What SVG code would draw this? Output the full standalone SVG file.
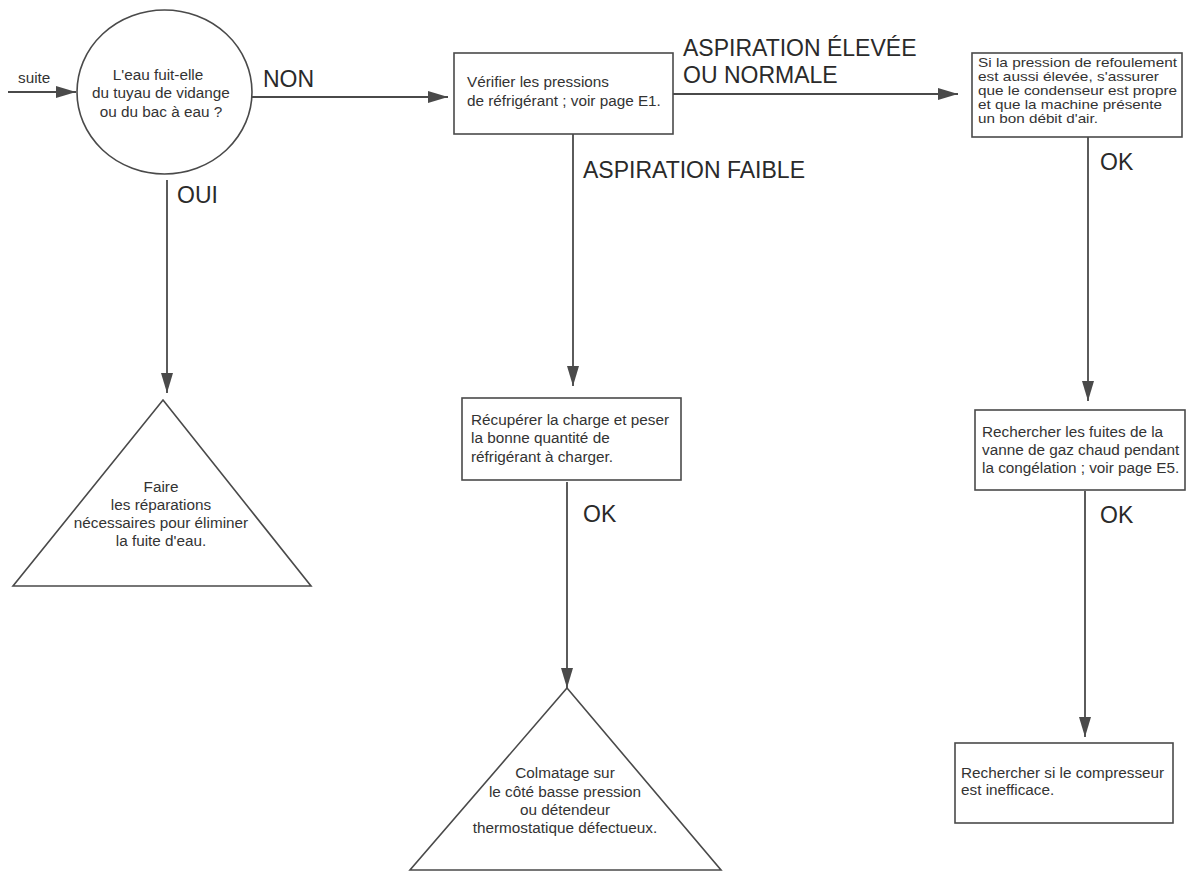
<svg xmlns="http://www.w3.org/2000/svg" width="1188" height="872" viewBox="0 0 1188 872">
  <style>
    .shape { fill: #ffffff; stroke: #4a4a4a; stroke-width: 1.6; }
    .line { fill: none; stroke: #4a4a4a; stroke-width: 1.8; }
    .txt { font-family: "Liberation Sans", Arial, sans-serif; font-size: 15.3px; fill: #333333; }
    .dense { font-size: 13px; }
    .mid { text-anchor: middle; }
    .lbl { font-family: "Liberation Sans", Arial, sans-serif; font-size: 23px; fill: #2a2a2a; }
  </style>
  <defs>
    <marker id="arrow" viewBox="0 0 20 12" refX="20" refY="6" markerWidth="20" markerHeight="12" markerUnits="userSpaceOnUse" orient="auto">
      <path d="M0,0 L20,6 L0,12 Z" fill="#4a4a4a"/>
    </marker>
  </defs>

  <rect width="1188" height="872" fill="#ffffff"/>

  <!-- connectors -->
  <g id="connectors">
    <line class="line" x1="8" y1="92" x2="76" y2="92" marker-end="url(#arrow)"/>
    <line class="line" x1="252" y1="97" x2="448" y2="97" marker-end="url(#arrow)"/>
    <line class="line" x1="167" y1="180" x2="167" y2="393" marker-end="url(#arrow)"/>
    <line class="line" x1="673" y1="94" x2="958" y2="94" marker-end="url(#arrow)"/>
    <line class="line" x1="573" y1="134" x2="573" y2="386" marker-end="url(#arrow)"/>
    <line class="line" x1="567" y1="482" x2="567" y2="688" marker-end="url(#arrow)"/>
    <line class="line" x1="1088" y1="137" x2="1088" y2="401" marker-end="url(#arrow)"/>
    <line class="line" x1="1085" y1="491" x2="1085" y2="737" marker-end="url(#arrow)"/>

    <text class="txt" x="18" y="83">suite</text>
    <text class="lbl" x="263" y="87">NON</text>
    <text class="lbl" x="177" y="203">OUI</text>
    <text class="lbl" x="683" y="56">ASPIRATION ÉLEVÉE</text>
    <text class="lbl" x="683" y="83">OU NORMALE</text>
    <text class="lbl" x="583" y="178">ASPIRATION FAIBLE</text>
    <text class="lbl" x="583" y="522">OK</text>
    <text class="lbl" x="1100" y="170">OK</text>
    <text class="lbl" x="1100" y="523">OK</text>
  </g>

  <!-- decision: water leak -->
  <g id="n-question">
    <ellipse class="shape" cx="164.5" cy="92" rx="87.5" ry="82"/>
    <text class="txt mid" x="158" y="80">L'eau fuit-elle</text>
    <text class="txt mid" x="161" y="98">du tuyau de vidange</text>
    <text class="txt mid" x="161" y="117">ou du bac à eau ?</text>
  </g>

  <!-- repair the leak -->
  <g id="n-repair">
    <polygon class="shape" points="163,400 311,586 13,586"/>
    <text class="txt mid" x="161" y="492">Faire</text>
    <text class="txt mid" x="161" y="510">les réparations</text>
    <text class="txt mid" x="161" y="528">nécessaires pour éliminer</text>
    <text class="txt mid" x="161" y="546">la fuite d'eau.</text>
  </g>

  <!-- check pressures -->
  <g id="n-pressures">
    <rect class="shape" x="454" y="53" width="219" height="81"/>
    <text class="txt" x="467" y="87">Vérifier les pressions</text>
    <text class="txt" x="467" y="106">de réfrigérant ; voir page E1.</text>
  </g>

  <!-- recover charge -->
  <g id="n-recover">
    <rect class="shape" x="462" y="398" width="219" height="82"/>
    <text class="txt" x="471" y="425">Récupérer la charge et peser</text>
    <text class="txt" x="471" y="443">la bonne quantité de</text>
    <text class="txt" x="471" y="462">réfrigérant à charger.</text>
  </g>

  <!-- low-side restriction -->
  <g id="n-restriction">
    <polygon class="shape" points="567,688 721,870 410,870"/>
    <text class="txt mid" x="565" y="778">Colmatage sur</text>
    <text class="txt mid" x="565" y="797">le côté basse pression</text>
    <text class="txt mid" x="565" y="815">ou détendeur</text>
    <text class="txt mid" x="565" y="833">thermostatique défectueux.</text>
  </g>

  <!-- condenser check: five tight lines, glyphs widened to fill the box -->
  <g id="n-condenser">
    <rect class="shape" x="972" y="53" width="210" height="84"/>
    <text class="txt dense" x="978" y="67" textLength="199" lengthAdjust="spacingAndGlyphs">Si la pression de refoulement</text>
    <text class="txt dense" x="978" y="81" textLength="181" lengthAdjust="spacingAndGlyphs">est aussi élevée, s'assurer</text>
    <text class="txt dense" x="978" y="95" textLength="199" lengthAdjust="spacingAndGlyphs">que le condenseur est propre</text>
    <text class="txt dense" x="978" y="109" textLength="184" lengthAdjust="spacingAndGlyphs">et que la machine présente</text>
    <text class="txt dense" x="978" y="123" textLength="120" lengthAdjust="spacingAndGlyphs">un bon débit d'air.</text>
  </g>

  <!-- hot gas valve -->
  <g id="n-hotgas">
    <rect class="shape" x="975" y="410" width="210" height="80"/>
    <text class="txt" x="982" y="437">Rechercher les fuites de la</text>
    <text class="txt" x="982" y="455">vanne de gaz chaud pendant</text>
    <text class="txt" x="982" y="473">la congélation ; voir page E5.</text>
  </g>

  <!-- compressor -->
  <g id="n-compressor">
    <rect class="shape" x="955" y="743" width="218" height="80"/>
    <text class="txt" x="961" y="778">Rechercher si le compresseur</text>
    <text class="txt" x="961" y="795">est inefficace.</text>
  </g>
</svg>
